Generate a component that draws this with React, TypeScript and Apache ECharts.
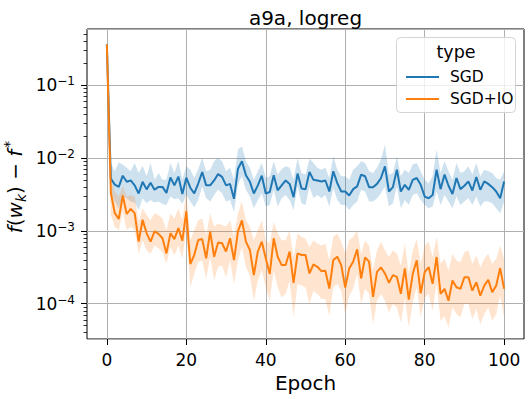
import React, { useEffect, useRef } from "react";
import * as echarts from "echarts";

// Epoch index (x values)
const epochs: number[] = Array.from({ length: 101 }, (_, i) => i);

// SGD mean / band (f(w_k) - f*)
const sgdMean = [
  0.36, 5.2e-3, 4.3e-3, 4.0e-3, 5.7e-3, 4.7e-3, 4.9e-3, 4.2e-3, 3.25e-3, 4.7e-3,
  3.7e-3, 4.55e-3, 3.65e-3, 4.0e-3, 4.0e-3, 3.3e-3, 5.4e-3, 4.2e-3, 5.55e-3, 3.2e-3,
  5.35e-3, 3.9e-3, 3.25e-3, 4.45e-3, 6.4e-3, 4.2e-3, 4.2e-3, 4.9e-3, 6.0e-3, 5.5e-3,
  4.2e-3, 4.4e-3, 2.75e-3, 7.1e-3, 9.0e-3, 5.8e-3, 4.7e-3, 3.25e-3, 4.2e-3, 5.7e-3,
  3.25e-3, 3.4e-3, 5.8e-3, 3.6e-3, 4.2e-3, 4.9e-3, 4.4e-3, 2.9e-3, 6.1e-3, 3.8e-3,
  3.7e-3, 6.4e-3, 5.0e-3, 4.9e-3, 4.76e-3, 4.9e-3, 3.46e-3, 6.55e-3, 4.5e-3, 3.46e-3,
  3.46e-3, 3.05e-3, 3.73e-3, 4.06e-3, 5.9e-3, 5.6e-3, 3.97e-3, 3.97e-3, 4.4e-3, 5.3e-3,
  7.67e-3, 3.46e-3, 3.97e-3, 6.9e-3, 3.46e-3, 4.27e-3, 3.65e-3, 5.0e-3, 5.3e-3, 4.27e-3,
  2.95e-3, 2.8e-3, 3.1e-3, 6.9e-3, 3.73e-3, 5.9e-3, 4.15e-3, 3.2e-3, 5.3e-3, 3.73e-3,
  4.15e-3, 4.76e-3, 3.57e-3, 5.46e-3, 3.65e-3, 4.76e-3, 4.4e-3, 3.97e-3, 3.46e-3, 2.8e-3,
  4.76e-3,
];
const sgdUpper = [
  0.36, 8.5e-3, 6.55e-3, 8.7e-3, 8.1e-3, 7.3e-3, 6.55e-3, 8.5e-3, 6.2e-3, 7.8e-3,
  5.6e-3, 8.5e-3, 5.0e-3, 6.2e-3, 5.0e-3, 5.0e-3, 8.5e-3, 6.2e-3, 9.0e-3, 5.0e-3,
  7.7e-3, 6.9e-3, 5.3e-3, 7.05e-3, 1.0e-2, 6.55e-3, 6.9e-3, 9.0e-3, 1.0e-2, 9.0e-3,
  6.55e-3, 7.3e-3, 5.0e-3, 1.3e-2, 1.45e-2, 9.0e-3, 7.3e-3, 5.0e-3, 6.55e-3, 8.5e-3,
  5.3e-3, 5.6e-3, 9.0e-3, 5.9e-3, 7.05e-3, 7.7e-3, 7.3e-3, 5.0e-3, 1.0e-2, 6.2e-3,
  5.9e-3, 9.7e-3, 8.5e-3, 7.3e-3, 6.9e-3, 7.3e-3, 5.3e-3, 1.05e-2, 6.9e-3, 5.6e-3,
  5.6e-3, 5.0e-3, 6.9e-3, 7.7e-3, 9.0e-3, 8.5e-3, 6.55e-3, 6.2e-3, 7.3e-3, 9.5e-3,
  1.53e-2, 5.9e-3, 6.2e-3, 1.05e-2, 5.6e-3, 6.9e-3, 6.2e-3, 8.1e-3, 8.5e-3, 6.55e-3,
  5.0e-3, 4.5e-3, 5.6e-3, 1.3e-2, 6.2e-3, 9.0e-3, 6.55e-3, 5.0e-3, 8.5e-3, 6.2e-3,
  6.55e-3, 7.7e-3, 5.9e-3, 8.5e-3, 5.6e-3, 6.9e-3, 6.55e-3, 6.2e-3, 5.3e-3, 5.0e-3,
  6.55e-3,
];
const sgdLower = [
  0.36, 3.28e-3, 2.52e-3, 2.04e-3, 2.95e-3, 2.8e-3, 2.52e-3, 2.44e-3, 1.93e-3, 2.8e-3,
  2.39e-3, 2.65e-3, 2.44e-3, 2.52e-3, 2.34e-3, 2.26e-3, 2.95e-3, 2.71e-3, 2.8e-3, 2.34e-3,
  3.11e-3, 2.52e-3, 2.1e-3, 2.65e-3, 4.06e-3, 2.8e-3, 2.52e-3, 3.11e-3, 3.65e-3, 3.28e-3,
  2.52e-3, 2.65e-3, 1.83e-3, 4.27e-3, 5.58e-3, 3.65e-3, 2.95e-3, 2.04e-3, 2.65e-3, 3.28e-3,
  2.15e-3, 2.26e-3, 3.65e-3, 2.15e-3, 2.8e-3, 3.11e-3, 2.65e-3, 1.93e-3, 4.06e-3, 2.39e-3,
  2.26e-3, 4.06e-3, 2.8e-3, 3.11e-3, 2.8e-3, 3.11e-3, 2.15e-3, 3.85e-3, 2.65e-3, 2.26e-3,
  2.26e-3, 1.93e-3, 2.26e-3, 2.52e-3, 3.65e-3, 3.46e-3, 2.52e-3, 2.52e-3, 2.8e-3, 3.28e-3,
  4.06e-3, 2.15e-3, 2.39e-3, 4.06e-3, 2.04e-3, 2.65e-3, 2.26e-3, 3.11e-3, 3.28e-3, 2.65e-3,
  2.26e-3, 2.04e-3, 2.15e-3, 3.46e-3, 2.26e-3, 3.11e-3, 2.52e-3, 2.04e-3, 2.95e-3, 2.26e-3,
  2.52e-3, 2.8e-3, 2.26e-3, 2.95e-3, 2.15e-3, 2.52e-3, 2.52e-3, 2.39e-3, 2.04e-3, 1.74e-3,
  2.52e-3,
];

// SGD+IO mean / band
const ioMean = [
  0.36, 3.3e-3, 1.75e-3, 1.45e-3, 3.05e-3, 1.7e-3, 2.0e-3, 1.75e-3, 7.1e-4, 1.42e-3,
  9.3e-4, 7.1e-4, 9.8e-4, 9.1e-4, 7.9e-4, 4.9e-4, 9.3e-4, 7.7e-4, 1.09e-3, 7.3e-4,
  1.85e-3, 3.5e-4, 4.66e-4, 7.5e-4, 7.7e-4, 4.19e-4, 9.8e-4, 4.41e-4, 6.9e-4, 6.75e-4,
  5.2e-4, 7.9e-4, 3.97e-4, 9.8e-4, 1.39e-3, 7.1e-4, 5.46e-4, 2.47e-4, 5.2e-4, 7.1e-4,
  4.19e-4, 2.55e-4, 7.9e-4, 4.41e-4, 3.39e-4, 3.39e-4, 5.2e-4, 1.93e-4, 4.9e-4, 4.66e-4,
  4.66e-4, 2.6e-4, 3.46e-4, 3.21e-4, 2.8e-4, 2.83e-4, 1.61e-4, 3.97e-4, 4.41e-4, 3.39e-4,
  1.66e-4, 3.05e-4, 3.77e-4, 5.58e-4, 2.22e-4, 4.32e-4, 3.77e-4, 1.24e-4, 2.74e-4, 3.15e-4,
  2.6e-4, 1.93e-4, 2.47e-4, 2.34e-4, 1.37e-4, 3.05e-4, 1.14e-4, 2.57e-4, 3.93e-4, 1.39e-4,
  2.71e-4, 3.18e-4, 1.87e-4, 4.37e-4, 1.36e-4, 1.6e-4, 1.1e-4, 2.08e-4, 1.68e-4, 1.6e-4,
  2.31e-4, 2.31e-4, 1.51e-4, 1.97e-4, 1.29e-4, 1.77e-4, 2.12e-4, 1.44e-4, 1.77e-4, 3.08e-4,
  1.6e-4,
];
const ioUpper = [
  0.36, 5.0e-3, 3.46e-3, 2.95e-3, 4.06e-3, 2.95e-3, 3.11e-3, 2.95e-3, 1.33e-3, 2.04e-3,
  1.65e-3, 1.4e-3, 1.74e-3, 1.65e-3, 1.48e-3, 1.02e-3, 1.74e-3, 1.48e-3, 2.04e-3, 1.4e-3,
  3.46e-3, 7.4e-4, 1.02e-3, 1.4e-3, 1.48e-3, 8.7e-4, 1.74e-3, 1.14e-3, 1.26e-3, 1.2e-3,
  1.14e-3, 1.4e-3, 8.3e-4, 1.74e-3, 2.52e-3, 1.4e-3, 1.14e-3, 7.4e-4, 1.02e-3, 1.4e-3,
  7.4e-4, 6.7e-4, 1.33e-3, 9.2e-4, 7.4e-4, 7.4e-4, 1.02e-3, 4.37e-4, 9.2e-4, 8.3e-4,
  7.8e-4, 6.0e-4, 7.4e-4, 6.7e-4, 6.3e-4, 6.7e-4, 3.93e-4, 8.3e-4, 9.2e-4, 7.05e-4,
  4.86e-4, 7.4e-4, 8.3e-4, 1.02e-3, 4.86e-4, 7.4e-4, 6.3e-4, 2.86e-4, 5.4e-4, 7.05e-4,
  5.4e-4, 4.37e-4, 5.4e-4, 4.86e-4, 3.35e-4, 6.7e-4, 2.57e-4, 5.4e-4, 7.8e-4, 3.53e-4,
  6.3e-4, 7.05e-4, 4.37e-4, 8.3e-4, 3.53e-4, 4.15e-4, 2.86e-4, 4.86e-4, 3.93e-4, 3.73e-4,
  5.1e-4, 5.4e-4, 3.53e-4, 4.6e-4, 3.18e-4, 4.15e-4, 4.86e-4, 3.53e-4, 4.15e-4, 6.3e-4,
  4.15e-4,
];
const ioLower = [
  0.36, 1.65e-3, 1.14e-3, 1.02e-3, 1.83e-3, 1.02e-3, 1.14e-3, 1.02e-3, 4.86e-4, 7.4e-4,
  5.4e-4, 4.86e-4, 6.3e-4, 5.7e-4, 5.1e-4, 3.53e-4, 6.0e-4, 4.6e-4, 6.3e-4, 4.15e-4,
  1.02e-3, 1.68e-4, 2.57e-4, 3.73e-4, 3.93e-4, 2.19e-4, 4.37e-4, 2.08e-4, 3.18e-4, 3.35e-4,
  2.31e-4, 3.93e-4, 1.87e-4, 3.93e-4, 6.0e-4, 3.18e-4, 2.44e-4, 1.1e-4, 2.08e-4, 2.86e-4,
  1.68e-4, 1.1e-4, 2.86e-4, 1.68e-4, 1.22e-4, 1.36e-4, 2.08e-4, 6.5e-5, 1.87e-4, 1.77e-4,
  1.68e-4, 9.9e-5, 1.51e-4, 1.36e-4, 1.16e-4, 1.16e-4, 6.8e-5, 1.68e-4, 1.87e-4, 1.51e-4,
  7.2e-5, 1.29e-4, 1.6e-4, 2.57e-4, 9.9e-5, 1.6e-4, 1.36e-4, 5.2e-5, 1.1e-4, 1.36e-4,
  1.1e-4, 7.6e-5, 9.9e-5, 8.9e-5, 5.5e-5, 1.22e-4, 4.7e-5, 1.04e-4, 1.68e-4, 6.5e-5,
  1.22e-4, 1.36e-4, 8.0e-5, 1.87e-4, 5.8e-5, 6.8e-5, 4.7e-5, 8.9e-5, 7.2e-5, 6.5e-5,
  9.9e-5, 9.9e-5, 6.1e-5, 8.4e-5, 5.2e-5, 7.2e-5, 8.9e-5, 5.8e-5, 7.2e-5, 1.29e-4,
  6.5e-5,
];

// Tick labels
const xTicks = [0, 20, 40, 60, 80, 100];
const yDecadeExps = [-4, -3, -2, -1];
const seriesNames = ["SGD", "SGD+IO"];

// Axis extents (matplotlib 5% margins)
const X_MIN = -5;
const X_MAX = 105;
const Y_MIN_EXP = -4.484;
const Y_MAX_EXP = -0.232;

const FONT = "DejaVu Sans";
const BLUE = "#1f77b4";
const ORANGE = "#ff7f0e";

function bandSeries(lower: number[], upper: number[], fill: string) {
  return {
    type: "custom",
    yAxisIndex: 0,
    silent: true,
    z: 1,
    clip: true,
    encode: { x: 0, y: [1, 2] },
    data: epochs.map((e, i) => [e, lower[i], upper[i]]),
    renderItem: (params: any, api: any) => {
      if (params.dataIndex !== 0) return null;
      const pts: number[][] = [];
      for (let i = 0; i < epochs.length; i++) pts.push(api.coord([epochs[i], upper[i]]));
      for (let i = epochs.length - 1; i >= 0; i--) pts.push(api.coord([epochs[i], lower[i]]));
      return {
        type: "polygon",
        shape: { points: pts },
        style: { fill, stroke: "none" },
      };
    },
  };
}

export default function App() {
  const ref = useRef<HTMLDivElement>(null);

  useEffect(() => {
    const chart = echarts.init(ref.current!, null, { renderer: "svg" });
    const pairs = (arr: number[]) => epochs.map((e, i) => [e, arr[i]]);

    const minorTicks: number[] = [];
    for (let d = -5; d <= 0; d++) {
      for (let k = 2; k <= 9; k++) {
        const v = d + Math.log10(k);
        if (v > Y_MIN_EXP && v < Y_MAX_EXP) minorTicks.push(v);
      }
    }

    const option: any = {
      animation: false,
      backgroundColor: "#ffffff",
      textStyle: { fontFamily: FONT },
      grid: {
        left: 87,
        right: 8,
        top: 29,
        bottom: 60,
        show: true,
        borderColor: "#000",
        borderWidth: 1,
        backgroundColor: "transparent",
        containLabel: false,
        outerBoundsMode: "none",
      },
      xAxis: {
        type: "value",
        min: X_MIN,
        max: X_MAX,
        axisLine: { show: false },
        axisTick: {
          show: true,
          customValues: xTicks,
          length: 6,
          lineStyle: { color: "#000", width: 1 },
        },
        axisLabel: {
          customValues: xTicks,
          fontSize: 17,
          color: "#000",
          margin: 12,
          fontFamily: FONT,
        },
        splitLine: { show: true, lineStyle: { color: "#b0b0b0", width: 1 } },
        name: "Epoch",
        nameLocation: "middle",
        nameGap: 33,
        nameTextStyle: { fontSize: 20, color: "#000", fontFamily: FONT },
      },
      yAxis: [
        {
          type: "log",
          logBase: 10,
          min: Math.pow(10, Y_MIN_EXP),
          max: Math.pow(10, Y_MAX_EXP),
          axisLine: { show: false },
          axisTick: { show: false },
          axisLabel: { show: false },
          minorTick: { show: false },
          splitLine: { show: true, lineStyle: { color: "#b0b0b0", width: 1 } },
        },
        {
          type: "value",
          min: Y_MIN_EXP,
          max: Y_MAX_EXP,
          position: "left",
          axisLine: { show: false },
          splitLine: { show: false },
          axisTick: {
            show: true,
            customValues: yDecadeExps,
            length: 6,
            lineStyle: { color: "#000", width: 1 },
          },
          axisLabel: {
            customValues: yDecadeExps,
            margin: 12,
            formatter: (v: number) => `{b|10}{s|\u2212${Math.abs(Math.round(v))}}`,
            rich: {
              b: { fontSize: 17, color: "#000", fontFamily: FONT, lineHeight: 20 },
              s: {
                fontSize: 12,
                color: "#000",
                fontFamily: FONT,
                lineHeight: 12,
                verticalAlign: "top",
              },
            },
          },
        },
        {
          type: "value",
          min: Y_MIN_EXP,
          max: Y_MAX_EXP,
          position: "left",
          axisLine: { show: false },
          splitLine: { show: false },
          axisLabel: { show: false },
          axisTick: {
            show: true,
            customValues: minorTicks,
            length: 3.5,
            lineStyle: { color: "#000", width: 0.8 },
          },
        },
      ],
      legend: {
        data: seriesNames,
        orient: "vertical",
        left: 401,
        top: 64,
        icon: "rect",
        itemWidth: 33,
        itemHeight: 2,
        itemGap: 6,
        z: 10,
        textStyle: {
          fontSize: 15.5,
          color: "#000",
          fontFamily: FONT,
          padding: [0, 0, 0, 6],
        },
      },
      graphic: [
        {
          type: "rect",
          z: 8,
          shape: { x: 396.5, y: 37.5, width: 119, height: 75, r: 4 },
          style: { fill: "rgba(255,255,255,0.8)", stroke: "#d4d4d4", lineWidth: 1 },
        },
        {
          type: "text",
          z: 9,
          x: 456,
          y: 52,
          style: {
            text: "type",
            fontSize: 17.5,
            fontFamily: FONT,
            fill: "#000",
            align: "center",
            verticalAlign: "middle",
          },
        },
        {
          type: "text",
          x: 305.5,
          y: 18,
          style: {
            text: "a9a, logreg",
            fontSize: 20,
            fontFamily: FONT,
            fill: "#000",
            align: "center",
            verticalAlign: "middle",
          },
        },
        {
          type: "text",
          x: 15,
          y: 187,
          rotation: Math.PI / 2,
          style: {
            text: "{i|f}{n|(}{i|w}{sub|k}{n|) \u2212 }{i|f}{sup|*}",
            align: "center",
            verticalAlign: "middle",
            fill: "#000",
            rich: {
              i: { fontSize: 20, fontStyle: "italic", fontFamily: FONT, lineHeight: 26, fill: "#000" },
              n: { fontSize: 20, fontFamily: FONT, lineHeight: 26, fill: "#000" },
              sub: {
                fontSize: 14,
                fontStyle: "italic",
                fontFamily: FONT,
                lineHeight: 14,
                verticalAlign: "bottom",
                fill: "#000",
              },
              sup: {
                fontSize: 14,
                fontFamily: FONT,
                lineHeight: 14,
                verticalAlign: "top",
                fill: "#000",
                padding: [0, 0, 0, 2],
              },
            },
          },
        },
      ],
      series: [
        bandSeries(sgdLower, sgdUpper, "rgba(31,119,180,0.22)"),
        bandSeries(ioLower, ioUpper, "rgba(255,127,14,0.2)"),
        {
          name: seriesNames[0],
          type: "line",
          yAxisIndex: 0,
          data: pairs(sgdMean),
          symbol: "none",
          itemStyle: { color: BLUE },
          lineStyle: { color: BLUE, width: 2 },
          z: 3,
        },
        {
          name: seriesNames[1],
          type: "line",
          yAxisIndex: 0,
          data: pairs(ioMean),
          symbol: "none",
          itemStyle: { color: ORANGE },
          lineStyle: { color: ORANGE, width: 2 },
          z: 3,
        },
      ],
    };

    chart.setOption(option);
    return () => chart.dispose();
  }, []);

  return (
    <div
      ref={ref}
      style={{ position: "fixed", left: 0, top: 0, width: 532, height: 399 }}
    />
  );
}
